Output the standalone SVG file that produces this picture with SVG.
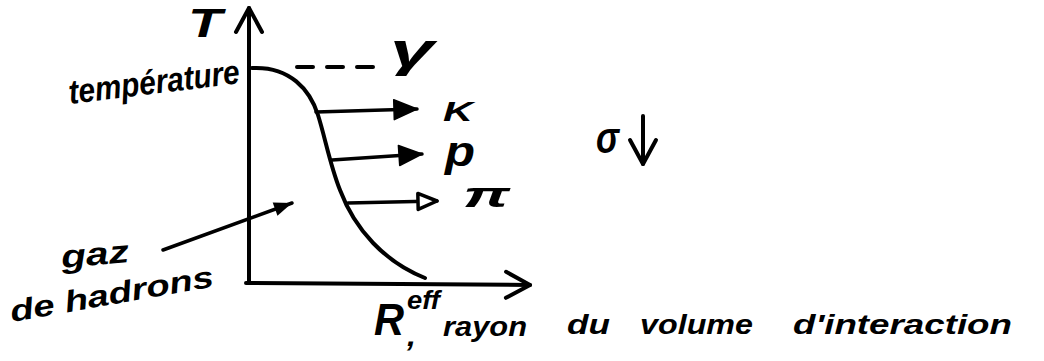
<svg xmlns="http://www.w3.org/2000/svg" width="1044" height="361" viewBox="0 0 1044 361">
<style>
.t{font-family:"Liberation Sans",Arial,sans-serif;font-style:italic;font-weight:bold;fill:#000}
.ln{fill:none;stroke:#000;stroke-width:4;stroke-linecap:round;stroke-linejoin:round}
.thin{fill:none;stroke:#000;stroke-width:3.5;stroke-linecap:round}
</style>
<defs>
<marker id="open" markerUnits="userSpaceOnUse" markerWidth="40" markerHeight="40" refX="24" refY="13" orient="auto" overflow="visible">
<path d="M0,0 L24,13 L0,26" fill="none" stroke="#000" stroke-width="4" stroke-linecap="round" stroke-linejoin="round"/>
</marker>
<marker id="fill" markerUnits="userSpaceOnUse" markerWidth="40" markerHeight="40" refX="23" refY="10" orient="auto" overflow="visible">
<path d="M0,0 L23,10 L0,20 Z" fill="#000" stroke="#000" stroke-width="1.5" stroke-linejoin="round"/>
</marker>
<marker id="hollow" markerUnits="userSpaceOnUse" markerWidth="40" markerHeight="40" refX="20" refY="8" orient="auto" overflow="visible">
<path d="M1,0 L20,8 L1,16 Z" fill="#fff" stroke="#000" stroke-width="3.5" stroke-linejoin="round"/>
</marker>
<marker id="small" markerUnits="userSpaceOnUse" markerWidth="30" markerHeight="30" refX="18" refY="7" orient="auto" overflow="visible">
<path d="M0,0 L18,7 L0,14 Z" fill="#000"/>
</marker>
</defs>
<g id="connectors">
<path id="y-axis" class="ln" d="M249,283 L249,8" marker-end="url(#open)"/>
<path id="x-axis" class="ln" d="M246,283 L530,285" marker-end="url(#open)"/>
<path id="curve" class="ln" d="M252,68 C290,66 310,90 318,115 C325,137 330,165 340,190 C355,230 385,262 425,278"/>
<path id="dash-gamma" class="ln" d="M297,67 L377,67" stroke-dasharray="16 14" stroke-linecap="butt"/>
<path id="arrow-K" class="thin" d="M316,112 L417,109" marker-end="url(#fill)"/>
<path id="arrow-p" class="thin" d="M332,160 L422,154" marker-end="url(#fill)"/>
<path id="arrow-pi" class="thin" d="M348,203 L437,201" marker-end="url(#hollow)"/>
<path id="arrow-gaz" class="thin" d="M163,250 L292,203" marker-end="url(#small)"/>
<path id="arrow-sigma" class="ln" d="M643,116 L643,164" marker-end="url(#open)"/>
</g>
<g id="label-T"><text class="t" x="188" y="37" font-size="40" textLength="34" lengthAdjust="spacingAndGlyphs">T</text></g>
<g id="label-temperature"><text class="t" x="70" y="104" font-size="34" textLength="172" lengthAdjust="spacingAndGlyphs" transform="rotate(-7 70 104)">température</text></g>
<g id="label-gamma"><text class="t" x="390" y="66" font-size="46" textLength="44" lengthAdjust="spacingAndGlyphs">γ</text></g>
<g id="label-K"><text class="t" x="443" y="121" font-size="28" textLength="30" lengthAdjust="spacingAndGlyphs">K</text></g>
<g id="label-p"><text class="t" x="445" y="166" font-size="42" textLength="30" lengthAdjust="spacingAndGlyphs">p</text></g>
<g id="label-pi"><text class="t" x="463" y="207" font-size="36" textLength="47" lengthAdjust="spacingAndGlyphs">π</text></g>
<g id="label-sigma"><text class="t" x="596" y="153" font-size="44" textLength="23" lengthAdjust="spacingAndGlyphs">σ</text></g>
<g id="label-gaz"><text class="t" x="62" y="268" font-size="32" textLength="68" lengthAdjust="spacingAndGlyphs" transform="rotate(-5 62 268)">gaz</text></g>
<g id="label-hadrons"><text class="t" x="12" y="322" font-size="30" textLength="206" lengthAdjust="spacingAndGlyphs" transform="rotate(-10 12 322)">de hadrons</text></g>
<g id="label-R">
<text class="t" x="374" y="335" font-size="44" textLength="30" lengthAdjust="spacingAndGlyphs">R</text>
<text class="t" x="407" y="309" font-size="25" textLength="33" lengthAdjust="spacingAndGlyphs">eff</text>
<text class="t" x="407" y="346" font-size="30" textLength="9" lengthAdjust="spacingAndGlyphs">,</text>
<text class="t" x="443" y="336" font-size="28" textLength="84" lengthAdjust="spacingAndGlyphs">rayon</text>
<text class="t" x="567" y="334" font-size="28" textLength="43" lengthAdjust="spacingAndGlyphs">du</text>
<text class="t" x="640" y="334" font-size="28" textLength="113" lengthAdjust="spacingAndGlyphs">volume</text>
<text class="t" x="793" y="334" font-size="28" textLength="219" lengthAdjust="spacingAndGlyphs">d'interaction</text>
</g>
</svg>
